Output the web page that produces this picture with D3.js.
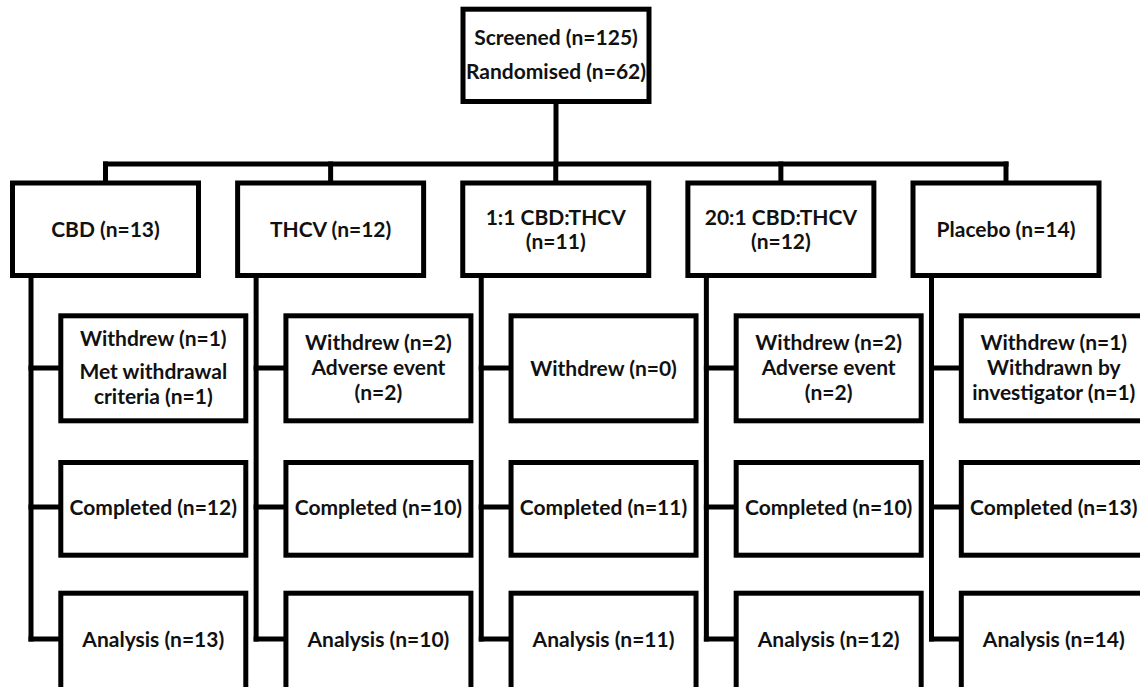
<!DOCTYPE html>
<html>
<head>
<meta charset="utf-8">
<script src="https://cdn.jsdelivr.net/npm/d3@7"></script>
<style>
html,body{margin:0;padding:0;background:#fff;}
svg{display:block;}
text{font-family:Lato,"Open Sans",sans-serif;font-weight:bold;fill:#111;}
</style>
</head>
<body>
<svg id="chart" width="1140" height="687"></svg>
<script>
// ---- data ----
const topLines = ["Screened (n=125)", "Randomised (n=62)"];
const arms = ["CBD", "THCV", "1:1 CBD:THCV", "20:1 CBD:THCV", "Placebo"];
const armN = [13, 12, 11, 12, 14];
const armLabels = [["CBD (n=13)"], ["THCV (n=12)"], ["1:1 CBD:THCV", "(n=11)"], ["20:1 CBD:THCV", "(n=12)"], ["Placebo (n=14)"]];
const withdrewN = [1, 2, 0, 2, 1];
const withdrewLabels = [
  ["Withdrew (n=1)", "Met withdrawal", "criteria (n=1)"],
  ["Withdrew (n=2)", "Adverse event", "(n=2)"],
  ["Withdrew (n=0)"],
  ["Withdrew (n=2)", "Adverse event", "(n=2)"],
  ["Withdrew (n=1)", "Withdrawn by", "investigator (n=1)"]
];
const completedN = [12, 10, 11, 10, 13];
const analysisN = [13, 10, 11, 12, 14];

// ---- layout ----
const svg = d3.select("#chart");
const SW = 5;
const FS = 21;
const x = d3.scalePoint().domain(arms).range([105.5, 1006]);
const boxW = 186, subW = 185;

function box(x0, y0, w, h) {
  svg.append("rect").attr("x", x0).attr("y", y0).attr("width", w).attr("height", h)
    .attr("fill", "#fff").attr("stroke", "#000").attr("stroke-width", SW);
}
function line(x1, y1, x2, y2) {
  svg.append("line").attr("x1", x1).attr("y1", y1).attr("x2", x2).attr("y2", y2)
    .attr("stroke", "#000").attr("stroke-width", SW).attr("stroke-linecap", "square");
}
function label(cx, ys, lines) {
  lines.forEach((t, i) => {
    svg.append("text").attr("x", cx).attr("y", ys[i]).attr("dy", "0.35em")
      .attr("text-anchor", "middle").attr("font-size", FS).text(t);
  });
}

// connectors first
const topCx = 556;
line(topCx, 101.5, topCx, 164);
line(x(arms[0]), 164, x(arms[arms.length - 1]), 164);
arms.forEach(a => line(x(a), 164, x(a), 183));

arms.forEach((a, i) => {
  const cx = x(a);
  const vx = cx - 74.5;
  line(vx, 275.5, vx, 639);
  line(vx, 368, cx - 44.7, 368);
  line(vx, 507, cx - 44.7, 507);
  line(vx, 639, cx - 44.7, 639);
});

// top box
box(463, 9.2, 186, 92.3);
label(556, [38, 72], topLines);

// arm boxes
arms.forEach((a, i) => {
  const cx = x(a);
  box(cx - boxW / 2, 183, boxW, 92.5);
  const L = armLabels[i];
  label(cx, L.length === 1 ? [230] : [218, 241.5], L);

  const sx = cx - 44.7, scx = sx + subW / 2;
  box(sx, 315.8, subW, 105);
  const W = withdrewLabels[i];
  let ys;
  if (W.length === 1) ys = [369];
  else if (i === 0) ys = [339, 372, 397];
  else ys = [343, 368, 393];
  label(scx, ys, W);

  box(sx, 462.5, subW, 92.7);
  label(scx, [507.5], ["Completed (n=" + completedN[i] + ")"]);

  box(sx, 593.2, subW, 97);
  label(scx, [640], ["Analysis (n=" + analysisN[i] + ")"]);
});
</script>
</body>
</html>
